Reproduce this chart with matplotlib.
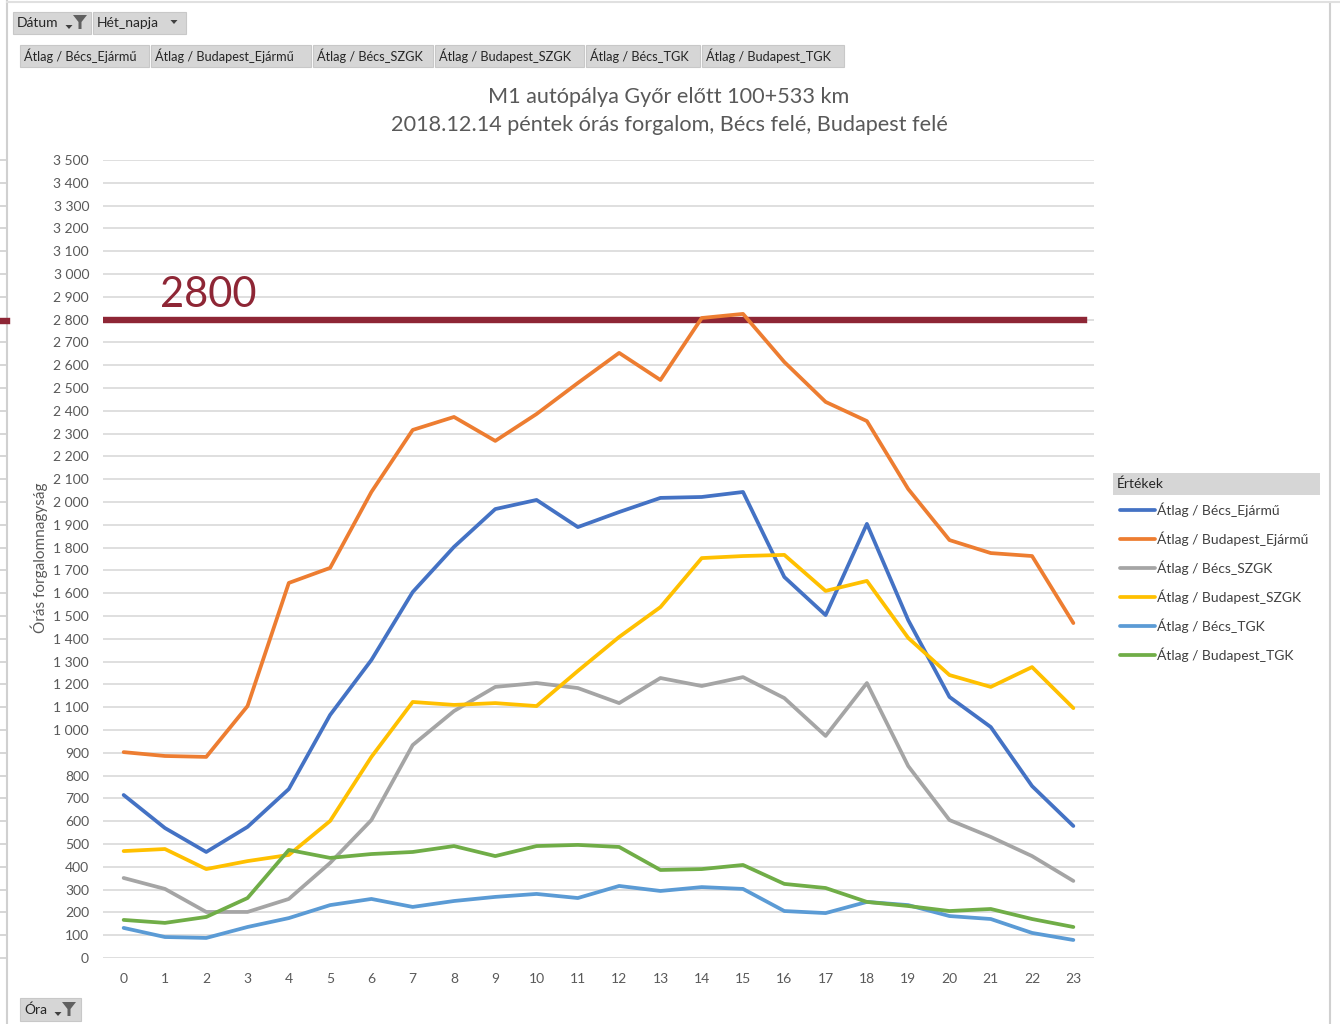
import numpy as np
import matplotlib
matplotlib.use('Agg')
import matplotlib.pyplot as plt
from matplotlib.patches import Rectangle, Polygon
from matplotlib.lines import Line2D

plt.rcParams['font.family'] = ['Lato', 'DejaVu Sans']

W, H = 1340, 1024

# ---- data: hourly averages, 2018.12.14 ----
hours = list(range(24))
becs_ejarmu = [715, 570, 465, 575, 741, 1066, 1307, 1605, 1803, 1969, 2009, 1890,
               1956, 2018, 2022, 2044, 1671, 1504, 1904, 1482, 1145, 1013, 754, 579]
budapest_ejarmu = [903, 886, 882, 1105, 1645, 1711, 2044, 2316, 2373, 2268, 2386, 2522,
                   2654, 2535, 2807, 2825, 2614, 2439, 2355, 2057, 1833, 1776, 1763, 1469]
becs_szgk = [351, 303, 202, 202, 259, 417, 605, 934, 1083, 1189, 1206, 1184,
             1118, 1228, 1193, 1232, 1140, 974, 1206, 842, 605, 531, 447, 338]
budapest_szgk = [469, 478, 390, 425, 452, 601, 882, 1123, 1110, 1118, 1105, 1259,
                 1408, 1539, 1754, 1763, 1768, 1610, 1654, 1404, 1241, 1189, 1276, 1096]
becs_tgk = [132, 92, 88, 136, 175, 232, 259, 224, 250, 268, 281, 263,
            316, 294, 311, 303, 206, 197, 246, 232, 184, 171, 110, 79]
budapest_tgk = [167, 154, 180, 263, 474, 439, 456, 465, 491, 447, 491, 496,
                487, 386, 390, 408, 325, 307, 246, 228, 206, 215, 171, 136]

series_names = ['Átlag / Bécs_Ejármű', 'Átlag / Budapest_Ejármű', 'Átlag / Bécs_SZGK',
                'Átlag / Budapest_SZGK', 'Átlag / Bécs_TGK', 'Átlag / Budapest_TGK']
series_values = [becs_ejarmu, budapest_ejarmu, becs_szgk, budapest_szgk, becs_tgk, budapest_tgk]
series_colors = ['#4472C4', '#ED7D31', '#A5A5A5', '#FFC000', '#5B9BD5', '#70AD47']

limit_value = 2800
y_ticks = list(range(0, 3600, 100))

title_lines = ['M1 autópálya Győr előtt 100+533 km',
               '2018.12.14 péntek órás forgalom, Bécs felé, Budapest felé']
y_label = 'Órás forgalomnagyság'

TXT = '#595959'
GRID = '#D9D9D9'


def fx(x):
    return x / W


def fy(y):
    return 1 - y / H


fig = plt.figure(figsize=(W / 100, H / 100), dpi=100)
fig.patch.set_facecolor('white')

ax = fig.add_axes([fx(103), fy(958), fx(1094) - fx(103), (958 - 160) / H])
ax.set_xlim(-0.5, 23.5)
ax.set_ylim(0, 3500)

for val in y_ticks:
    ax.axhline(val, color=GRID, lw=1.2, zorder=1)

ax.axhline(limit_value, xmin=0, xmax=(1084 - 103) / 991, color='#8E2635', lw=4.6, zorder=2)

for name, vals, col in zip(series_names, series_values, series_colors):
    ax.plot(hours, vals, color=col, lw=2.7, label=name, zorder=3,
            solid_capstyle='round', solid_joinstyle='round')

ax.text(2.06, limit_value + 25, str(limit_value), color='#8E2635', fontsize=30,
        ha='center', va='bottom', zorder=4)

for s in ax.spines.values():
    s.set_visible(False)
ax.set_yticks(y_ticks)
ax.set_yticklabels([f'{v:,}'.replace(',', ' ') for v in y_ticks])
ax.set_xticks(hours)
ax.set_xticklabels([str(h) for h in hours])
ax.tick_params(axis='both', length=0, colors=TXT, labelsize=10)
ax.tick_params(axis='y', pad=10)
ax.tick_params(axis='x', pad=11)

fig.text(fx(39), fy(558), y_label, rotation=90, ha='center', va='center',
         color=TXT, fontsize=11)

fig.text(fx(669), fy(97), title_lines[0], ha='center', va='center', color=TXT, fontsize=15.6)
fig.text(fx(669), fy(125), title_lines[1], ha='center', va='center', color=TXT, fontsize=15.6)


# ---- pivot field buttons ----
def button(x0, y0, x1, y1, label, size=9.5, face='#D6D6D6'):
    fig.patches.append(Rectangle((fx(x0), fy(y1)), fx(x1) - fx(x0), (y1 - y0) / H,
                                 transform=fig.transFigure, facecolor=face,
                                 edgecolor='#C8C8C8', lw=0.8))
    fig.text(fx(x0 + 4), fy((y0 + y1) / 2), label, ha='left', va='center',
             color='#262626', fontsize=size)


def funnel(cx, cy):
    pts = [(cx - 7, cy - 7), (cx + 7, cy - 7), (cx + 1.5, cy), (cx + 1.5, cy + 7),
           (cx - 1.5, cy + 7), (cx - 1.5, cy)]
    fig.patches.append(Polygon([(fx(a), fy(b)) for a, b in pts], closed=True,
                               transform=fig.transFigure, facecolor='#606060', edgecolor='none'))


def arrow(cx, cy):
    pts = [(cx - 3.5, cy - 2), (cx + 3.5, cy - 2), (cx, cy + 2)]
    fig.patches.append(Polygon([(fx(a), fy(b)) for a, b in pts], closed=True,
                               transform=fig.transFigure, facecolor='#404040', edgecolor='none'))


button(13, 12, 91, 34, 'Dátum', size=10)
funnel(80, 22)
arrow(69, 27)
button(93, 12, 186, 34, 'Hét_napja', size=10)
arrow(174, 22)

tab_edges = [20, 151, 313, 435, 586, 702, 846]
for i, name in enumerate(series_names):
    button(tab_edges[i], 45, tab_edges[i + 1] - 2, 67, name, size=9.2)

button(20, 998, 81, 1021, 'Óra', size=10)
funnel(69, 1009)
arrow(58, 1014)

# ---- legend ----
fig.patches.append(Rectangle((fx(1113), fy(495)), fx(1320) - fx(1113), 22 / H,
                             transform=fig.transFigure, facecolor='#D6D6D6', edgecolor='none'))
fig.text(fx(1117), fy(484), 'Értékek', ha='left', va='center', color='#262626', fontsize=10)
for i, (name, col) in enumerate(zip(series_names, series_colors)):
    yy = 510 + i * 29
    fig.lines.append(Line2D([fx(1120), fx(1155)], [fy(yy), fy(yy)], transform=fig.transFigure,
                            color=col, lw=2.7, solid_capstyle='round'))
    fig.text(fx(1157), fy(yy), name, ha='left', va='center', color='#404040', fontsize=10)

# ---- window frame around the chart sheet ----
fig.lines.append(Line2D([fx(7), fx(7)], [0, 1], transform=fig.transFigure, color='#D0D0D0', lw=1.5))
fig.lines.append(Line2D([fx(1330), fx(1330)], [0, fy(4)], transform=fig.transFigure,
                        color='#D0D0D0', lw=1.5))
fig.lines.append(Line2D([fx(7), 1], [fy(2), fy(2)], transform=fig.transFigure, color='#E0E0E0', lw=1.5))
for val in y_ticks:
    yy = 958 - val * 0.228
    fig.lines.append(Line2D([0, fx(6)], [fy(yy), fy(yy)], transform=fig.transFigure,
                            color='#D0D0D0', lw=1.2))
fig.lines.append(Line2D([0, fx(7)], [fy(321), fy(321)], transform=fig.transFigure,
                        color='#8E2635', lw=4.6))

fig.savefig('out.png', dpi=100, facecolor='white')
